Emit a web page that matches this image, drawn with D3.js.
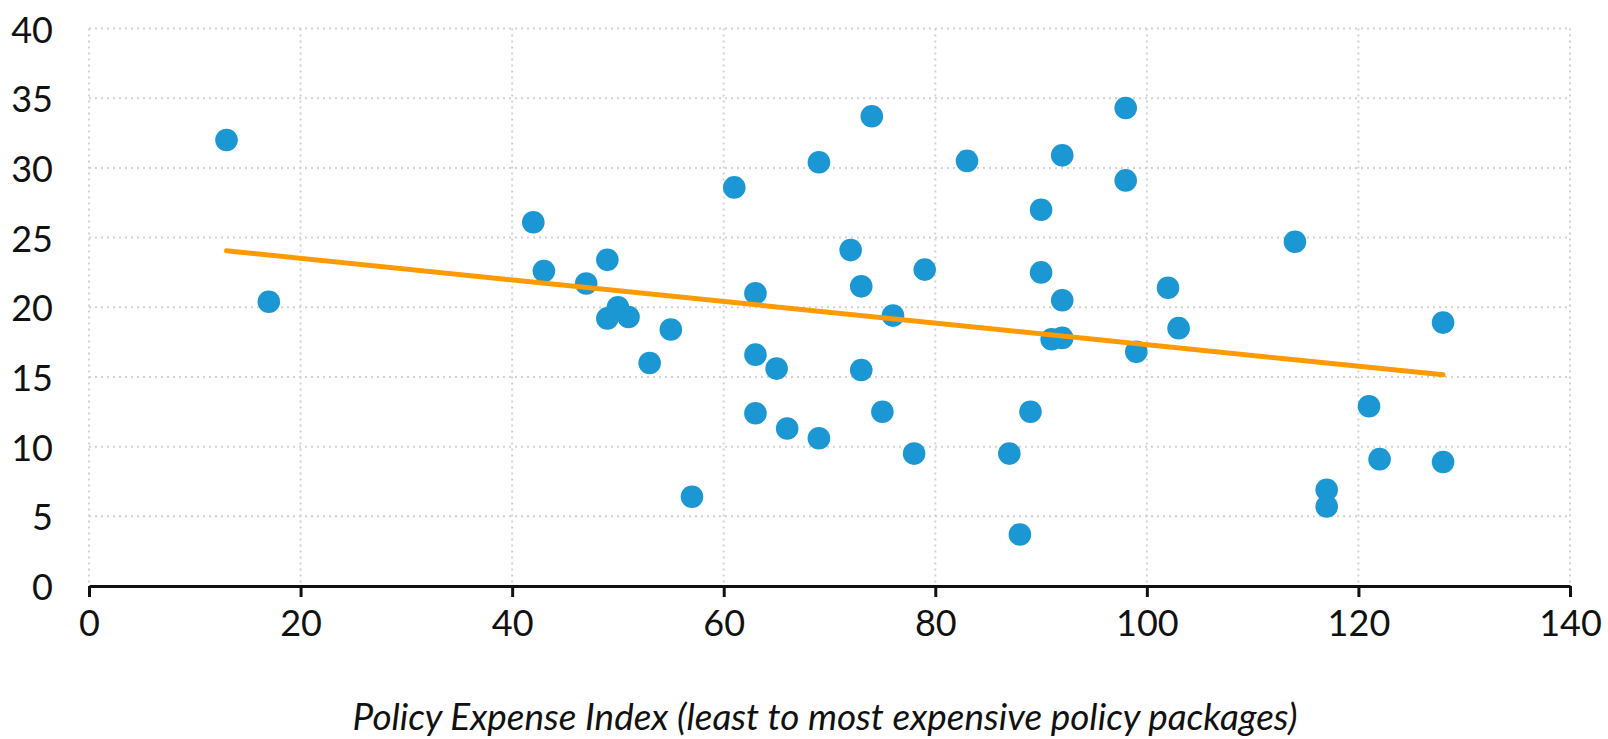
<!DOCTYPE html>
<html>
<head>
<meta charset="utf-8">
<script src="https://cdn.jsdelivr.net/npm/d3@7"></script>
<style>
  html, body { margin: 0; padding: 0; background: #fff; }
  svg { display: block; }
</style>
</head>
<body>
<svg id="chart" width="1608" height="739"></svg>
<script>
// Policy Expense Index (x) and outcome value (y) for each policy package
const expenseIndex = [13, 17, 42, 43, 47, 49, 49, 50, 51, 53, 55, 57, 61, 63, 63, 63, 65, 66, 69, 69,
                      72, 73, 73, 74, 75, 76, 78, 79, 83, 87, 88, 89, 90, 90, 91, 92, 92, 92, 98, 98,
                      99, 102, 103, 114, 117, 117, 121, 122, 128, 128];
const values = [32.0, 20.4, 26.1, 22.6, 21.7, 23.4, 19.2, 20.0, 19.3, 16.0, 18.4, 6.4, 28.6, 21.0, 16.6, 12.4, 15.6, 11.3, 30.4, 10.6,
                24.1, 21.5, 15.5, 33.7, 12.5, 19.4, 9.5, 22.7, 30.5, 9.5, 3.7, 12.5, 27.0, 22.5, 17.7, 30.9, 20.5, 17.8, 34.3, 29.1,
                16.8, 21.4, 18.5, 24.7, 6.9, 5.7, 12.9, 9.1, 18.9, 8.9];
const trendX = [13, 128];
const trendY = [24.05, 15.15];
const xTicks = [0, 20, 40, 60, 80, 100, 120, 140];
const yTicks = [0, 5, 10, 15, 20, 25, 30, 35, 40];
const xTitle = "Policy Expense Index (least to most expensive policy packages)";

const svg = d3.select("#chart");
const mLeft = 89, mRight = 1570, mTop = 28.5, mBottom = 586;
const x = d3.scaleLinear().domain([0, 140]).range([mLeft, mRight]);
const y = d3.scaleLinear().domain([0, 40]).range([mBottom, mTop]);
const font = "Lato, 'Open Sans', sans-serif";

// gridlines
const grid = svg.append("g");
grid.selectAll("line.h").data(yTicks.filter(d => d > 0)).join("line")
  .attr("class", "h")
  .attr("x1", mLeft).attr("x2", mRight)
  .attr("y1", d => y(d)).attr("y2", d => y(d))
  .attr("stroke", "#d2d2d2").attr("stroke-width", 2).attr("stroke-dasharray", "2,4");
grid.selectAll("line.v").data(xTicks).join("line")
  .attr("class", "v")
  .attr("x1", d => x(d)).attr("x2", d => x(d))
  .attr("y1", mTop).attr("y2", mBottom)
  .attr("stroke", "#d2d2d2").attr("stroke-width", 2).attr("stroke-dasharray", "2,4");

// y labels
svg.append("g").selectAll("text").data(yTicks).join("text")
  .attr("x", 53).attr("y", d => y(d))
  .attr("text-anchor", "end").attr("dominant-baseline", "central")
  .attr("font-family", font).attr("font-size", 36).attr("fill", "#111")
  .text(d => d);

// x axis
const xAxis = svg.append("g").attr("transform", `translate(0,${mBottom})`)
  .call(d3.axisBottom(x).tickValues(xTicks).tickSize(11).tickPadding(13).tickSizeOuter(0));
xAxis.select(".domain").attr("stroke", "#111").attr("stroke-width", 3);
xAxis.selectAll(".tick line").attr("stroke", "#111").attr("stroke-width", 3);
xAxis.selectAll(".tick text").attr("font-family", font).attr("font-size", 36).attr("fill", "#111");

// points
svg.append("g").selectAll("circle").data(expenseIndex.map((d, i) => [d, values[i]])).join("circle")
  .attr("cx", d => x(d[0])).attr("cy", d => y(d[1])).attr("r", 11.3)
  .attr("fill", "#1b97d4");

// trend line
svg.append("path")
  .datum(trendX.map((d, i) => [d, trendY[i]]))
  .attr("d", d3.line().x(d => x(d[0])).y(d => y(d[1])))
  .attr("stroke", "#ff9a00").attr("stroke-width", 5).attr("fill", "none")
  .attr("stroke-linecap", "round");

// x title
const t = svg.append("text")
  .attr("x", 825).attr("y", 730)
  .attr("text-anchor", "middle")
  .attr("font-family", font).attr("font-style", "italic").attr("font-size", 33).attr("fill", "#111")
  .text(xTitle);
const w = t.node().getComputedTextLength();
if (w > 0) t.attr("font-size", 33 * 945 / w);
</script>
</body>
</html>
